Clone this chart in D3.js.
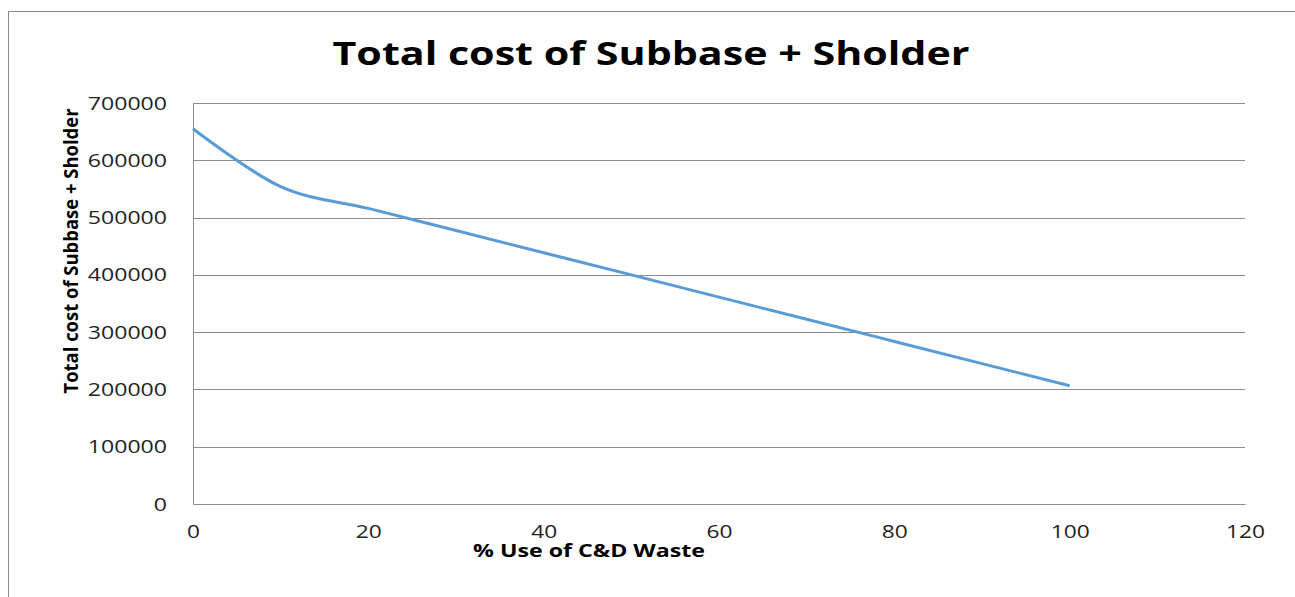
<!DOCTYPE html>
<html><head><meta charset="utf-8">
<script src="https://cdn.jsdelivr.net/npm/d3@7"></script>
<style>body{margin:0;background:#fff}svg{display:block}</style>
</head><body>
<script>
const xValues = [0, 10, 20, 30, 40, 50, 60, 70, 80, 90, 100];
const costValues = [655000, 554000, 516000, 477300, 438600, 399900, 361200, 322500, 283800, 245100, 206400];
const yTicks = [0, 100000, 200000, 300000, 400000, 500000, 600000, 700000];
const xTicks = [0, 20, 40, 60, 80, 100, 120];
const title = "Total cost of Subbase + Sholder";
const xTitle = "% Use of C&D Waste";
const yTitle = "Total cost of Subbase + Sholder";

const W = 1295, H = 597;
const svg = d3.select("body").append("svg").attr("width", W).attr("height", H);
const font = "'Open Sans', sans-serif";

svg.append("rect").attr("x", 8.5).attr("y", 11.5).attr("width", W + 20).attr("height", H)
  .attr("fill", "none").attr("stroke", "#8c8c8c").attr("stroke-width", 1);

const x = d3.scaleLinear().domain([0, 120]).range([193, 1245]);
const y = d3.scaleLinear().domain([0, 700000]).range([504, 103]);

// gridlines
svg.append("g").selectAll("line").data(yTicks.filter(d => d > 0)).join("line")
  .attr("x1", x(0)).attr("x2", x(120))
  .attr("y1", d => Math.round(y(d)) + 0.5).attr("y2", d => Math.round(y(d)) + 0.5)
  .attr("stroke", "#8c8c8c").attr("stroke-width", 1);

// y axis
const gy = svg.append("g").attr("transform", `translate(${x(0)},0)`)
  .call(d3.axisLeft(y).tickValues(yTicks).tickSize(0).tickPadding(26).tickFormat(d3.format("d")));
gy.select(".domain").attr("stroke", "#8c8c8c");
gy.selectAll("text").attr("font-family", font).attr("font-size", 19).attr("fill", "#222")
  .attr("textLength", d => String(d).length * 13.2).attr("lengthAdjust", "spacingAndGlyphs");

// x axis
const gx = svg.append("g").attr("transform", `translate(0,${y(0)})`)
  .call(d3.axisBottom(x).tickValues(xTicks).tickSize(0).tickPadding(21).tickFormat(d3.format("d")));
gx.select(".domain").attr("stroke", "#8c8c8c");
gx.selectAll("text").attr("font-family", font).attr("font-size", 19).attr("fill", "#222")
  .attr("textLength", d => String(d).length * 13).attr("lengthAdjust", "spacingAndGlyphs");

// line
const line = d3.line().x((d, i) => x(xValues[i])).y(d => y(d)).curve(d3.curveCatmullRom.alpha(0));
svg.append("path").datum(costValues).attr("d", line)
  .attr("fill", "none").attr("stroke", "#5b9bd5").attr("stroke-width", 3);

// titles
svg.append("text").attr("x", 651).attr("y", 65).attr("text-anchor", "middle")
  .attr("font-family", font).attr("font-weight", "bold").attr("font-size", 33)
  .attr("textLength", 637).attr("lengthAdjust", "spacingAndGlyphs").text(title);

svg.append("text").attr("x", 589).attr("y", 557).attr("text-anchor", "middle")
  .attr("font-family", font).attr("font-weight", "bold").attr("font-size", 17)
  .attr("textLength", 232).attr("lengthAdjust", "spacingAndGlyphs").text(xTitle);

svg.append("text").attr("transform", "translate(78,251) rotate(-90)").attr("text-anchor", "middle")
  .attr("font-family", font).attr("font-weight", "bold").attr("font-size", 20)
  .attr("textLength", 285).attr("lengthAdjust", "spacingAndGlyphs").text(yTitle);
</script>
</body></html>
